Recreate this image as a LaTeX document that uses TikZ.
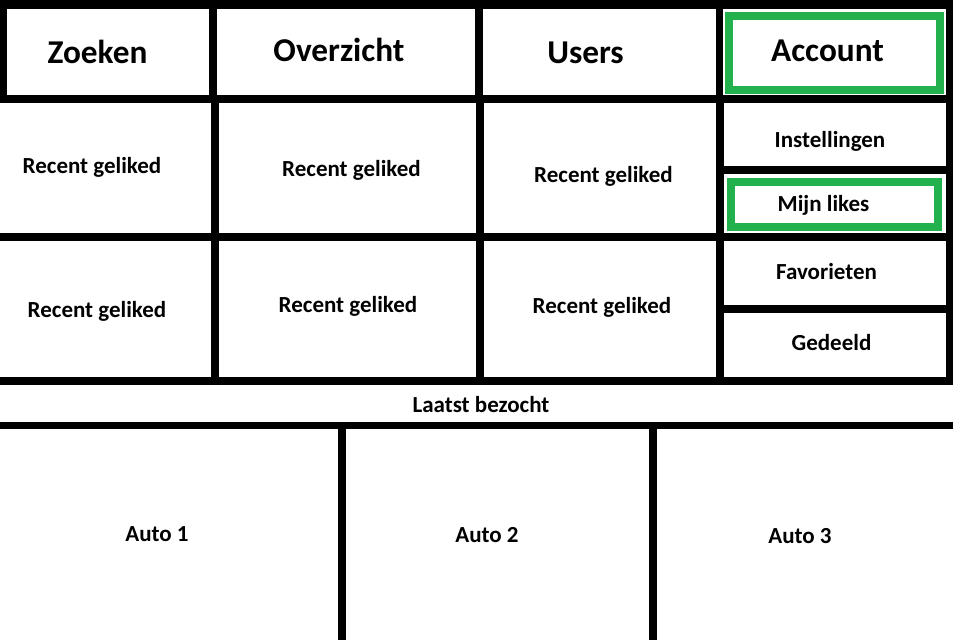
\documentclass[tikz,border=0pt]{standalone}
\usepackage{fontspec}
\setmainfont{Carlito}
\definecolor{paintgreen}{HTML}{22B14C}
\tikzset{
  bar/.style={fill=black},
  hl/.style={draw=paintgreen, line width=8pt},
  big/.style={anchor=base, inner sep=0pt, font=\fontsize{33.3}{36}\selectfont\bfseries},
  small/.style={anchor=base, inner sep=0pt, font=\fontsize{23}{26}\selectfont\bfseries},
}
\begin{document}
\begin{tikzpicture}[x=1pt,y=-1pt]
\useasboundingbox (0,0) rectangle (953,640);
% black bars
\fill[bar] (0,0) rectangle (953,9);
\fill[bar] (0,0) rectangle (7,103);
\fill[bar] (0,95) rectangle (953,103);
\fill[bar] (209,0) rectangle (217,103);
\fill[bar] (475,0) rectangle (483,103);
\fill[bar] (716,0) rectangle (723,103);
\fill[bar] (946,0) rectangle (953,385);
\fill[bar] (211,95) rectangle (219,385);
\fill[bar] (476,95) rectangle (484,385);
\fill[bar] (716,95) rectangle (724,385);
\fill[bar] (0,233) rectangle (953,241);
\fill[bar] (716,166) rectangle (953,174);
\fill[bar] (716,305) rectangle (953,313);
\fill[bar] (0,377) rectangle (953,385);
\fill[bar] (0,422) rectangle (953,429);
\fill[bar] (338,422) rectangle (346,640);
\fill[bar] (649,422) rectangle (657,640);
% green highlights
\draw[hl] (729,16) rectangle (940,90);
\draw[hl] (731,182) rectangle (938,227);
% labels
\node[big] (zoeken) at (97.5,63) {Zoeken};
\node[big] (overzicht) at (339,61) {Overzicht};
\node[big] (users) at (585.5,63) {Users};
\node[big] (account) at (827.5,61) {Account};
\node[small] (r21) at (92,173) {Recent geliked};
\node[small] (r22) at (351.5,176) {Recent geliked};
\node[small] (r23) at (603.5,182) {Recent geliked};
\node[small] (r31) at (97,317) {Recent geliked};
\node[small] (r32) at (348,312) {Recent geliked};
\node[small] (r33) at (602,313) {Recent geliked};
\node[small] (inst) at (830,147) {Instellingen};
\node[small] (likes) at (823.5,211) {Mijn likes};
\node[small] (fav) at (826.5,279) {Favorieten};
\node[small] (ged) at (831.5,350) {Gedeeld};
\node[small] (laatst) at (481,412) {Laatst bezocht};
\node[small] (auto1) at (157,541) {Auto 1};
\node[small] (auto2) at (487,542) {Auto 2};
\node[small] (auto3) at (800,543) {Auto 3};
\end{tikzpicture}
\end{document}
